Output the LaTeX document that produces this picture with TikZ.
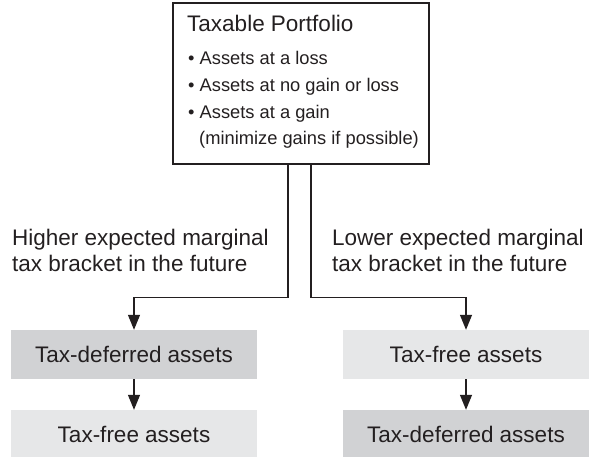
\documentclass[tikz,border=0pt]{standalone}
\usepackage{fontspec}
\setmainfont{Liberation Sans}
\usetikzlibrary{arrows.meta}
\definecolor{inkc}{HTML}{231F20}
\definecolor{darkbox}{HTML}{D1D2D4}
\definecolor{lightbox}{HTML}{E6E7E8}
\begin{document}
\begin{tikzpicture}[x=1pt,y=-1pt,
  conn/.style={draw=inkc,line width=1.3pt,-{Triangle[width=12pt,length=15pt]}},
  headtxt/.style={font=\fontsize{22.5}{26.5}\selectfont,text=inkc,inner sep=0pt,anchor=base west},
  listtxt/.style={font=\fontsize{18.3}{26.7}\selectfont,text=inkc,inner sep=0pt,anchor=base west},
  labeltxt/.style={font=\fontsize{22.5}{26.5}\selectfont,text=inkc,inner sep=0pt,anchor=north west,align=left},
  assetbox/.style={minimum width=246pt,minimum height=49pt,inner sep=0pt,text=inkc,font=\fontsize{22.5}{26.5}\selectfont},
  darkfill/.style={assetbox,fill=darkbox},
  lightfill/.style={assetbox,fill=lightbox}]
\useasboundingbox (0,0) rectangle (596,457);
% top box
\node[draw=inkc,line width=1.3pt,minimum width=256pt,minimum height=161pt,inner sep=0pt] (top) at (301,83.5) {};
\node[headtxt] (title) at (187,32) {Taxable Portfolio};
\node[listtxt] (i1) at (188,65) {\textbullet\ Assets at a loss};
\node[listtxt] (i2) at (188,92) {\textbullet\ Assets at no gain or loss};
\node[listtxt] (i3) at (188,118.5) {\textbullet\ Assets at a gain};
\node[listtxt] (i4) at (199,145) {(minimize gains if possible)};
% labels
\node[labeltxt] (lhigh) at (12,228.5) {Higher expected marginal\\tax bracket in the future};
\node[labeltxt] (llow) at (332,228.5) {Lower expected marginal\\tax bracket in the future};
% asset boxes
\node[darkfill] (b1) at (134,354.5) {Tax-deferred assets};
\node[lightfill] (b2) at (134,434.5) {Tax-free assets};
\node[lightfill] (b3) at (466,354.5) {Tax-free assets};
\node[darkfill] (b4) at (466,434.5) {Tax-deferred assets};
% connectors
\draw[conn] ([xshift=-13pt]top.south) -- ++(0,133) -| (b1.north);
\draw[conn] ([xshift=10pt]top.south) -- ++(0,133) -| (b3.north);
\draw[conn] (b1.south) -- (b2.north);
\draw[conn] (b3.south) -- (b4.north);
\end{tikzpicture}
\end{document}
